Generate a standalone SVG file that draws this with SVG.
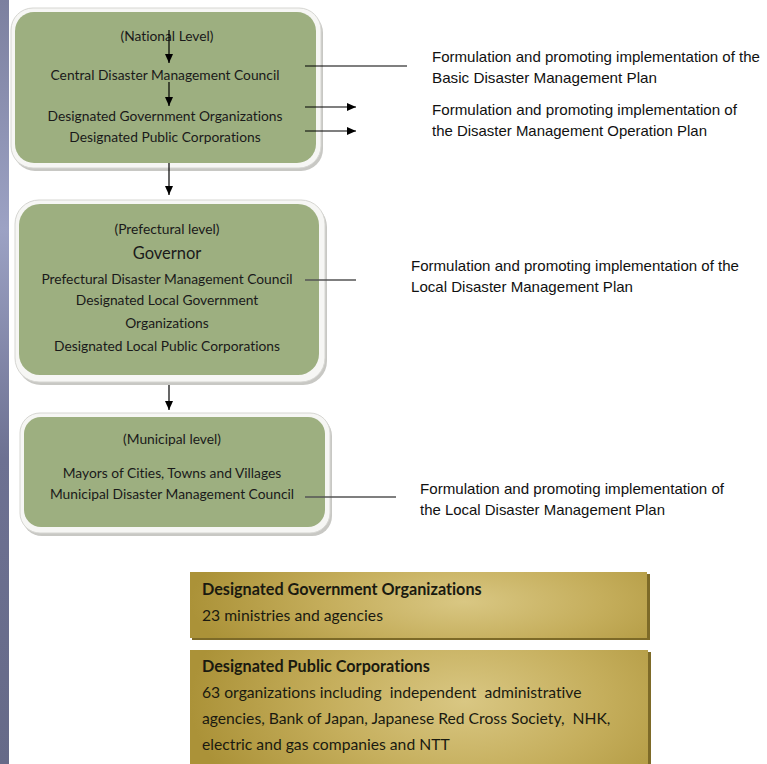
<svg xmlns="http://www.w3.org/2000/svg" width="767" height="764" viewBox="0 0 767 764">
<defs>
<linearGradient id="strip" x1="0" y1="0" x2="0" y2="1">
<stop offset="0" stop-color="#7c809f"/>
<stop offset="0.3" stop-color="#9ca2c4"/>
<stop offset="0.6" stop-color="#6d7192"/>
<stop offset="1" stop-color="#666a88"/>
</linearGradient>
<radialGradient id="gold" cx="0.6" cy="0.45" r="0.6" gradientTransform="translate(0.6 0.45) scale(1 2.2) translate(-0.6 -0.45)">
<stop offset="0" stop-color="#d9c783"/>
<stop offset="0.5" stop-color="#c5ae5c"/>
<stop offset="1" stop-color="#ab9238"/>
</radialGradient>
<marker id="ah" markerWidth="9" markerHeight="8" refX="9" refY="4" orient="auto" markerUnits="userSpaceOnUse">
<path d="M0,0 L9,4 L0,8 Z" fill="#000"/>
</marker>
</defs>
<style>
text{font-variant-ligatures:none;white-space:pre}
.frame{fill:#f6f6f4;stroke:#d6d6d2;stroke-width:1}
.shadow{fill:#c8c8c4}
.green{fill:#9daf80}
.bt{font-family:Lato,"Open Sans",sans-serif;font-size:13.8px;fill:#1a1a1a;text-anchor:middle}
.rt{font-family:"Liberation Sans",Arial,sans-serif;font-size:14.5px;fill:#111}
.gt{font-family:Lato,"Open Sans",sans-serif;font-size:15.7px;fill:#1a1a10}
.gb{font-weight:bold;font-size:16.2px}
.gbox{fill:url(#gold)}
.gsh{fill:#7d6a28}
.ln{stroke:#000;stroke-width:1.2;fill:none}
.ln2{stroke:#555;stroke-width:1.5;fill:none}
</style>
<rect x="0" y="0" width="767" height="764" fill="#fff"/>
<rect x="0" y="0" width="9" height="764" fill="url(#strip)"/>

<g id="national">
<rect class="shadow" x="13" y="11" width="310" height="160" rx="22"/>
<rect class="frame" x="11" y="8" width="310" height="160" rx="22"/>
<rect class="green" x="15" y="12" width="301" height="151" rx="19"/>
<text class="bt" x="167" y="41">(National Level)</text>
<text class="bt" x="165" y="80">Central Disaster Management Council</text>
<text class="bt" x="165" y="121">Designated Government Organizations</text>
<text class="bt" x="165" y="142">Designated Public Corporations</text>
</g>

<g id="prefectural">
<rect class="shadow" x="17" y="203" width="310" height="182" rx="24"/>
<rect class="frame" x="15" y="200" width="310" height="182" rx="24"/>
<rect class="green" x="19" y="204" width="300" height="171" rx="21"/>
<text class="bt" x="167" y="234">(Prefectural level)</text>
<text class="bt" x="167" y="259" style="font-size:16.5px">Governor</text>
<text class="bt" x="167" y="284">Prefectural Disaster Management Council</text>
<text class="bt" x="167" y="305">Designated Local Government</text>
<text class="bt" x="167" y="328">Organizations</text>
<text class="bt" x="167" y="351">Designated Local Public Corporations</text>
</g>

<g id="municipal">
<rect class="shadow" x="22" y="416" width="310" height="120" rx="20"/>
<rect class="frame" x="20" y="413" width="310" height="120" rx="20"/>
<rect class="green" x="24" y="417" width="301" height="110" rx="17"/>
<text class="bt" x="172" y="444">(Municipal level)</text>
<text class="bt" x="172" y="478">Mayors of Cities, Towns and Villages</text>
<text class="bt" x="172" y="499">Municipal Disaster Management Council</text>
</g>

<g id="connectors">
<line class="ln" x1="169" y1="30" x2="169" y2="63" marker-end="url(#ah)"/>
<line class="ln" x1="169" y1="82" x2="169" y2="106" marker-end="url(#ah)"/>
<line class="ln" x1="169" y1="163" x2="169" y2="195" marker-end="url(#ah)"/>
<line class="ln" x1="169" y1="385" x2="169" y2="410" marker-end="url(#ah)"/>
<line class="ln" x1="305" y1="66" x2="407" y2="66"/>
<line class="ln" x1="305" y1="107" x2="356" y2="107" marker-end="url(#ah)"/>
<line class="ln" x1="305" y1="131" x2="356" y2="131" marker-end="url(#ah)"/>
<line class="ln2" x1="305" y1="280" x2="356" y2="280"/>
<line class="ln2" x1="305" y1="497" x2="396" y2="497"/>
</g>

<g id="note-basic">
<text class="rt" x="432" y="62" textLength="328" lengthAdjust="spacingAndGlyphs">Formulation and promoting implementation of the</text>
<text class="rt" x="432" y="83" textLength="225" lengthAdjust="spacingAndGlyphs">Basic Disaster Management Plan</text>
</g>
<g id="note-operation">
<text class="rt" x="432" y="115" textLength="305" lengthAdjust="spacingAndGlyphs">Formulation and promoting implementation of</text>
<text class="rt" x="432" y="136" textLength="275" lengthAdjust="spacingAndGlyphs">the Disaster Management Operation Plan</text>
</g>
<g id="note-local1">
<text class="rt" x="411" y="271" textLength="328" lengthAdjust="spacingAndGlyphs">Formulation and promoting implementation of the</text>
<text class="rt" x="411" y="292" textLength="222" lengthAdjust="spacingAndGlyphs">Local Disaster Management Plan</text>
</g>
<g id="note-local2">
<text class="rt" x="420" y="494" textLength="304" lengthAdjust="spacingAndGlyphs">Formulation and promoting implementation of</text>
<text class="rt" x="420" y="515" textLength="245" lengthAdjust="spacingAndGlyphs">the Local Disaster Management Plan</text>
</g>

<g id="gov-orgs">
<rect class="gsh" x="192" y="574" width="458" height="66"/>
<rect class="gbox" x="190" y="572" width="457" height="66"/>
<text class="gt gb" x="202" y="595">Designated Government Organizations</text>
<text class="gt" x="202" y="621">23 ministries and agencies</text>
</g>

<g id="pub-corps">
<rect class="gsh" x="192" y="652" width="459" height="112"/>
<rect class="gbox" x="190" y="650" width="458" height="114"/>
<text class="gt gb" x="202" y="672">Designated Public Corporations</text>
<text class="gt" x="202" y="698">63 organizations including  independent  administrative</text>
<text class="gt" x="202" y="724">agencies, Bank of Japan, Japanese Red Cross Society,  NHK,</text>
<text class="gt" x="202" y="750">electric and gas companies and NTT</text>
</g>
</svg>
